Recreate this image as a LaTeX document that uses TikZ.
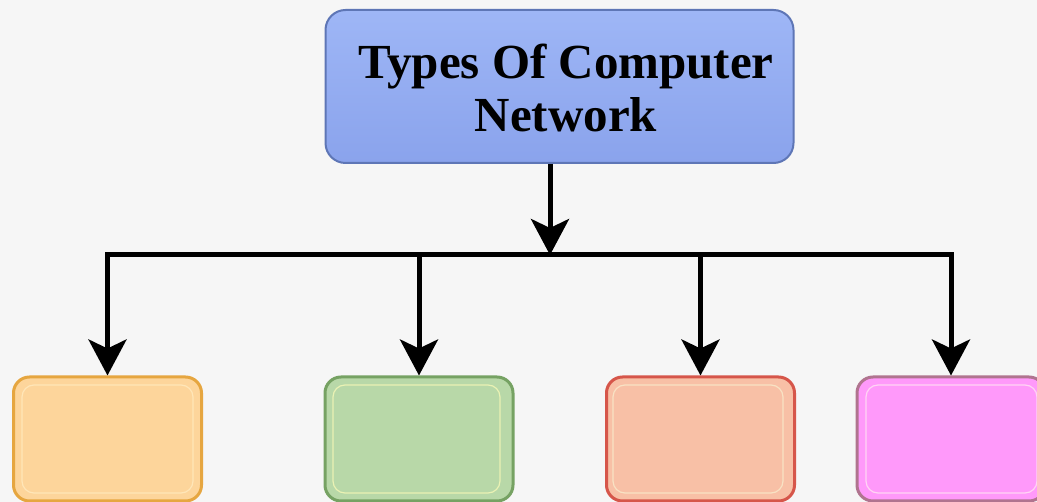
\documentclass[tikz,border=0pt]{standalone}
\usepackage{fontspec}
\setmainfont{Liberation Serif}
\usetikzlibrary{arrows.meta}
\definecolor{bg}{HTML}{F6F6F6}
\definecolor{topfillA}{HTML}{9EB6F6}
\definecolor{topfillB}{HTML}{8AA3EC}
\definecolor{topdraw}{HTML}{5E76B6}
\definecolor{oA}{HTML}{FDD59B}\definecolor{oD}{HTML}{E6A640}\definecolor{oI}{HTML}{FFE6B8}
\definecolor{gA}{HTML}{B8D8A8}\definecolor{gD}{HTML}{76A263}\definecolor{gI}{HTML}{EAF2B4}
\definecolor{rA}{HTML}{F8C0A6}\definecolor{rD}{HTML}{D6564A}\definecolor{rI}{HTML}{F8E2C4}
\definecolor{pA}{HTML}{FF99FA}\definecolor{pD}{HTML}{B0748F}\definecolor{pI}{HTML}{FFD4F4}
\tikzset{
  topbox/.style={draw=topdraw, line width=2pt, rounded corners=20pt,
    top color=topfillA, bottom color=topfillB,
    minimum width=468pt, minimum height=153pt, inner sep=0pt},
  leafbox/.style={line width=3pt, rounded corners=16pt,
    minimum width=188pt, minimum height=124pt, inner sep=0pt},
  conn/.style={line width=5pt, black},
  arr/.style={conn, -{Stealth[length=36pt, width=38pt, inset=9pt]}},
  titletext/.style={font=\bfseries\fontsize{49}{53}\selectfont, align=center, text=black}
}
\begin{document}
\begin{tikzpicture}[x=1pt,y=-1pt]
\fill[bg] (0,0) rectangle (1037,502);
\useasboundingbox (0,0) rectangle (1037,502);
\clip (0,0) rectangle (1037,502);
% top box
\node[topbox] (top) at (559.5,86.5) {};
\node[titletext] (title) at (566,88) {Types Of Computer\\Network};
% leaf boxes
\node[leafbox, draw=oD, fill=oA] (b1) at (107.5,439) {};
\node[leafbox, draw=gD, fill=gA] (b2) at (419,439) {};
\node[leafbox, draw=rD, fill=rA] (b3) at (700.5,439) {};
\node[leafbox, draw=pD, fill=pA] (b4) at (951,439) {};
% inner highlights
\draw[oI, line width=1.2pt, rounded corners=12pt] (22,385) rectangle (193,493);
\draw[gI, line width=1.2pt, rounded corners=12pt] (333,385) rectangle (500,493);
\draw[rI, line width=1.2pt, rounded corners=12pt] (613,385) rectangle (783,493);
\draw[pI, line width=1.2pt, rounded corners=12pt] (866,385) rectangle (1037,493);
% connectors
\coordinate (bar) at (550,255);
\draw[arr] (top.south -| bar) -- (bar);
\draw[conn, line cap=rect] (b1.north |- bar) -- (b4.north |- bar);
\draw[arr] (b1.north |- bar) -- (b1.north);
\draw[arr] (b2.north |- bar) -- (b2.north);
\draw[arr] (b3.north |- bar) -- (b3.north);
\draw[arr] (b4.north |- bar) -- (b4.north);
\end{tikzpicture}
\end{document}
